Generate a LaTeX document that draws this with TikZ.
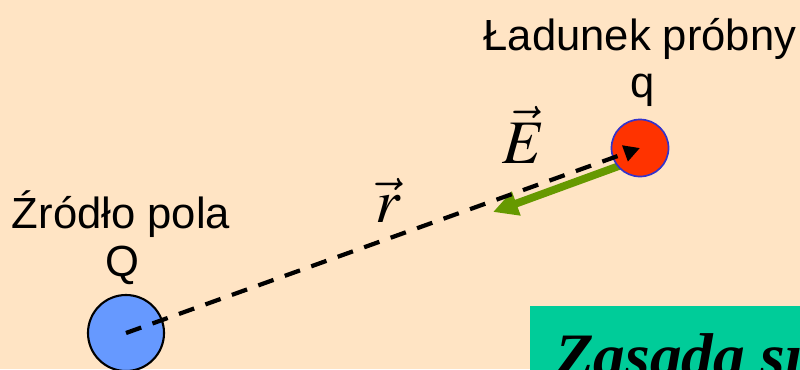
\documentclass[tikz,border=0pt]{standalone}
\usepackage{mathptmx}
\usepackage[no-math]{fontspec}
\setmainfont{Liberation Sans}
\newfontfamily\timesfont{Liberation Serif}
\usetikzlibrary{arrows.meta}

\definecolor{tlo}{RGB}{255,228,196}
\definecolor{niebieski}{RGB}{102,153,255}
\definecolor{czerwony}{RGB}{255,51,0}
\definecolor{obwod}{RGB}{51,51,204}
\definecolor{zielony}{RGB}{102,153,0}
\definecolor{zasada}{RGB}{0,204,153}

\begin{document}
\begin{tikzpicture}[x=0.025cm, y=-0.025cm,
    etykieta/.style={anchor=base, font=\fontsize{31}{37}\selectfont},
    wektor/.style={anchor=base, font=\fontsize{44}{50}\selectfont},
    ladunek/.style={circle, inner sep=0pt}]
  % Tlo
  \fill[tlo] (0,0) rectangle (800,369);
  \useasboundingbox (0,0) rectangle (800,369);
  \clip (0,0) rectangle (800,369);

  % Natezenie pola E (zielona strzalka)
  \coordinate (Epocz) at (619,166);
  \coordinate (Ekon) at (493,212);
  \draw[zielony, line width=5.5pt, -{Triangle[length=0.62cm,width=0.6cm]}] (Epocz) -- (Ekon);

  % Zrodlo pola Q
  \node[ladunek, fill=niebieski, draw=black, line width=1.5pt, minimum size=1.9cm] (Q) at (126,333) {};
  \node[etykieta] (zrodlo) at (121,228) {Źródło pola};
  \node[etykieta] (Qnapis) at (122,276) {Q};

  % Ladunek probny q
  \node[ladunek, fill=czerwony, draw=obwod, line width=1.2pt, minimum size=1.425cm] (q) at (640,148) {};
  \node[etykieta] (probny) at (640,50) {Ładunek próbny};
  \node[etykieta] (qnapis) at (643,97) {q};

  % Wektor r (przerywany)
  \draw[line width=3pt, dash pattern=on 11.5pt off 8.5pt, -{Triangle[length=0.4cm,width=0.4cm]}] (Q.center) -- (q.center);

  % Opisy wektorow
  \node[wektor] (E) at (524,163) {$\vec{E}$};
  \node[wektor] (r) at (388,222) {$\vec{r}$};

  % Zasada superpozycji (ramka)
  \fill[zasada] (530,306) rectangle (820,380);
  \node[anchor=base west, inner sep=0pt, font=\timesfont\bfseries\itshape\fontsize{45}{50}\selectfont] (zasadanapis) at (555,377) {Zasada su};
\end{tikzpicture}
\end{document}
